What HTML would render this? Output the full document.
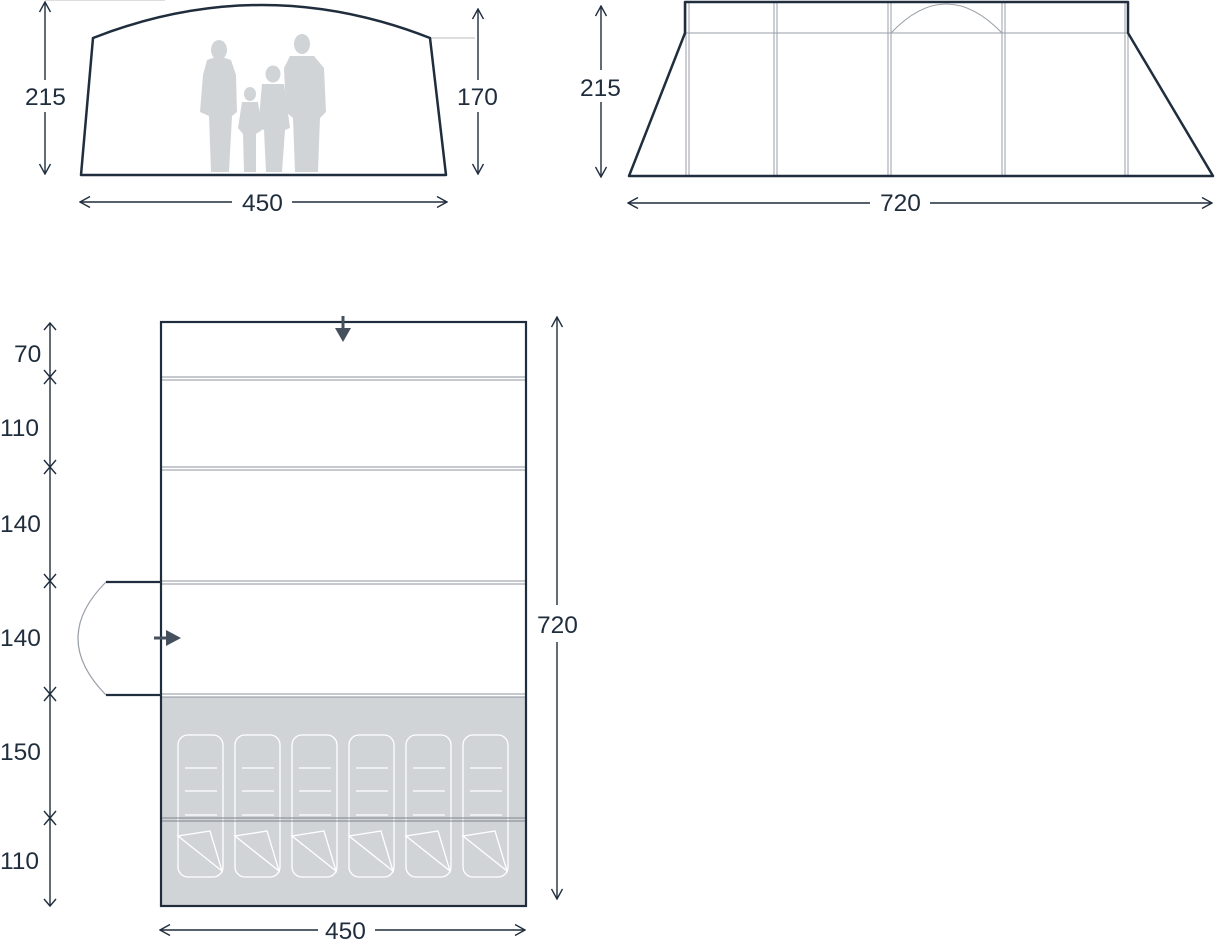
<!DOCTYPE html>
<html><head><style>
html,body{margin:0;padding:0;background:#fff;}
svg{display:block;}
text{font-family:"Liberation Sans",sans-serif;font-size:24.5px;fill:#1f2d3d;}
</style></head><body>
<svg width="1215" height="945" viewBox="0 0 1215 945" xmlns="http://www.w3.org/2000/svg">
<defs>
<marker id="ah" viewBox="0 0 12 12" refX="11" refY="6" markerWidth="12" markerHeight="12" markerUnits="userSpaceOnUse" orient="auto-start-reverse">
<path d="M1,0.5 L11,6 L1,11.5" fill="none" stroke="#1f2d3d" stroke-width="1.4"/>
</marker>
</defs>
<g stroke="#1f2d3d" stroke-width="1.4" fill="none">
<line x1="45" y1="2" x2="45" y2="80" marker-start="url(#ah)"/>
<line x1="45" y1="112" x2="45" y2="174" marker-end="url(#ah)"/>
<line x1="478" y1="9" x2="478" y2="80" marker-start="url(#ah)"/>
<line x1="478" y1="112" x2="478" y2="174" marker-end="url(#ah)"/>
<line x1="80" y1="202" x2="232" y2="202" marker-start="url(#ah)"/>
<line x1="292" y1="202" x2="447" y2="202" marker-end="url(#ah)"/>
<line x1="601" y1="6" x2="601" y2="70" marker-start="url(#ah)"/>
<line x1="601" y1="102" x2="601" y2="177" marker-end="url(#ah)"/>
<line x1="628" y1="203" x2="870" y2="203" marker-start="url(#ah)"/>
<line x1="930" y1="203" x2="1212" y2="203" marker-end="url(#ah)"/>
<line x1="50" y1="323" x2="50" y2="906"/>
<path d="M44,330 L50,323 L56,330"/>
<path d="M44,899 L50,906 L56,899"/>
<path d="M44,370 L50,377 L56,370 M44,384 L50,377 L56,384"/>
<path d="M44,460 L50,467 L56,460 M44,474 L50,467 L56,474"/>
<path d="M44,574 L50,581 L56,574 M44,588 L50,581 L56,588"/>
<path d="M44,687 L50,694 L56,687 M44,701 L50,694 L56,701"/>
<path d="M44,811 L50,818 L56,811 M44,825 L50,818 L56,825"/>
<line x1="557" y1="317" x2="557" y2="605" marker-start="url(#ah)"/>
<line x1="557" y1="642" x2="557" y2="899" marker-end="url(#ah)"/>
<line x1="160" y1="930" x2="318" y2="930" marker-start="url(#ah)"/>
<line x1="375" y1="930" x2="525" y2="930" marker-end="url(#ah)"/>
</g>
<text x="25" y="105">215</text>
<text x="457" y="105">170</text>
<text x="242" y="211">450</text>
<text x="580" y="96">215</text>
<text x="880" y="211">720</text>
<text x="14" y="362">70</text>
<text x="0" y="436">110</text>
<text x="0" y="532">140</text>
<text x="0" y="646">140</text>
<text x="0" y="760">150</text>
<text x="0" y="869">110</text>
<text x="537" y="633">720</text>
<text x="325" y="939">450</text>

<line x1="45" y1="0.5" x2="165" y2="0.5" stroke="#ddd" stroke-width="1"/>
<line x1="430" y1="38" x2="475" y2="38" stroke="#bbb" stroke-width="1"/>
<g fill="#d1d4d7">
<ellipse cx="219" cy="50" rx="8" ry="10"/><path d="M207,60 Q219,55 231,60 L236,75 L237,112 L232,116 L229,172 L211,172 L209,116 L200,112 L203,75 Z"/>
<ellipse cx="250" cy="94" rx="6" ry="7"/><path d="M242,102 L258,102 L262,130 L256,134 L256,172 L244,172 L243,134 L238,128 Z"/>
<ellipse cx="273" cy="74" rx="7.5" ry="8.5"/><path d="M262,84 L284,84 L290,128 L285,130 L282,172 L266,172 L264,130 L258,128 Z"/>
<ellipse cx="302" cy="44" rx="8" ry="10"/><path d="M290,56 L314,56 L324,68 L326,112 L320,118 L318,172 L295,172 L293,118 L286,112 L284,68 Z"/>
</g>
<path d="M81,175 L93,38 Q262,-28 430,38 L446,175 Z" fill="none" stroke="#1f2d3d" stroke-width="2.5" stroke-linejoin="round"/>

<g stroke="#9aa0a8" stroke-width="1" fill="none">
<line x1="685" y1="33" x2="1128" y2="33"/>
<line x1="686" y1="1" x2="686" y2="176"/><line x1="689" y1="1" x2="689" y2="176"/>
<line x1="774" y1="1" x2="774" y2="176"/><line x1="777" y1="1" x2="777" y2="176"/>
<line x1="888" y1="1" x2="888" y2="176"/><line x1="891" y1="1" x2="891" y2="176"/>
<line x1="1002" y1="1" x2="1002" y2="176"/><line x1="1005" y1="1" x2="1005" y2="176"/>
<line x1="1125" y1="1" x2="1125" y2="176"/><line x1="1128" y1="1" x2="1128" y2="176"/>
<path d="M891,33 Q946,-25 1002,33"/>
</g>
<path d="M629,176 L685,33 L685,2 L1128,2 L1128,33 L1213,176 Z" fill="none" stroke="#1f2d3d" stroke-width="2.5" stroke-linejoin="round"/>

<rect x="161" y="697" width="365" height="209" fill="#d1d4d7"/>
<g stroke="#8e959d" stroke-width="1" fill="none">
<line x1="161" y1="377" x2="526" y2="377"/><line x1="161" y1="380" x2="526" y2="380"/>
<line x1="161" y1="467" x2="526" y2="467"/><line x1="161" y1="470" x2="526" y2="470"/>
<line x1="161" y1="581" x2="526" y2="581"/><line x1="161" y1="584" x2="526" y2="584"/>
<line x1="161" y1="694" x2="526" y2="694"/><line x1="161" y1="697" x2="526" y2="697"/>
</g>
<g stroke="#fff" stroke-width="1.3" fill="none">
<rect x="178" y="735" width="45" height="142" rx="10"/>
<rect x="235" y="735" width="45" height="142" rx="10"/>
<rect x="292" y="735" width="45" height="142" rx="10"/>
<rect x="349" y="735" width="45" height="142" rx="10"/>
<rect x="406" y="735" width="45" height="142" rx="10"/>
<rect x="463" y="735" width="45" height="142" rx="10"/>
<path d="M185,768h32M185,791h32M185,815h32M178,836 L210,831 L222,871 Z"/>
<path d="M242,768h32M242,791h32M242,815h32M235,836 L267,831 L279,871 Z"/>
<path d="M299,768h32M299,791h32M299,815h32M292,836 L324,831 L336,871 Z"/>
<path d="M356,768h32M356,791h32M356,815h32M349,836 L381,831 L393,871 Z"/>
<path d="M413,768h32M413,791h32M413,815h32M406,836 L438,831 L450,871 Z"/>
<path d="M470,768h32M470,791h32M470,815h32M463,836 L495,831 L507,871 Z"/>
</g>
<g stroke="#7d858f" stroke-width="1" fill="none">
<line x1="161" y1="818" x2="526" y2="818"/><line x1="161" y1="821" x2="526" y2="821"/>
</g>
<rect x="161" y="322" width="365" height="584" fill="none" stroke="#1f2d3d" stroke-width="2.2"/>
<path d="M106,582 Q50,638 106,695" fill="none" stroke="#9aa0a8" stroke-width="1.2"/>
<line x1="106" y1="582" x2="161" y2="582" stroke="#1f2d3d" stroke-width="2.2"/>
<line x1="106" y1="695" x2="161" y2="695" stroke="#1f2d3d" stroke-width="2.2"/>
<line x1="154" y1="638" x2="168" y2="638" stroke="#46505c" stroke-width="3"/>
<path d="M166,630 L181,638 L166,646 Z" fill="#46505c"/>
<line x1="343" y1="316" x2="343" y2="330" stroke="#46505c" stroke-width="3"/>
<path d="M335,328 L343,342 L351,328 Z" fill="#46505c"/>
</svg>
</body></html>
